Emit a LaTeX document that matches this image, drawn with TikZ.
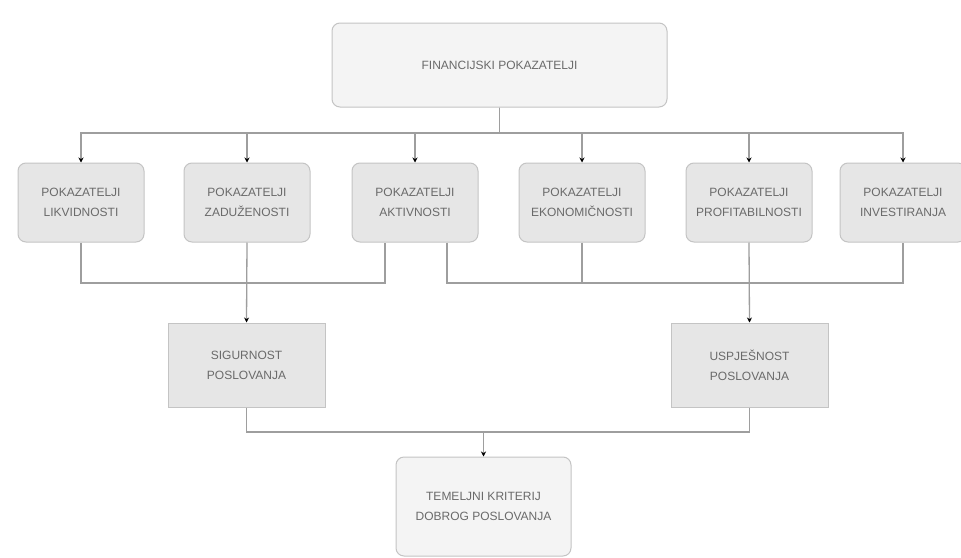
\documentclass[tikz,border=0pt]{standalone}
\usepackage{fontspec}
\setmainfont{Liberation Sans}
\usetikzlibrary{arrows.meta,calc}

\definecolor{boxgray}{HTML}{E6E6E6}
\definecolor{lightbox}{HTML}{F4F4F4}
\definecolor{edgegray}{HTML}{C4C4C4}
\definecolor{linegray}{HTML}{9E9E9E}
\definecolor{textgray}{HTML}{6A6A6A}

\tikzset{
  pokbox/.style={draw=edgegray, line width=1pt, fill=boxgray, rounded corners=8pt,
    minimum width=126pt, minimum height=79pt, align=center, text=textgray,
    font=\fontsize{12}{20}\selectfont},
  ishod/.style={pokbox, rounded corners=0pt, minimum width=157pt, minimum height=84pt},
  glavni/.style={pokbox, fill=lightbox},
  veza/.style={draw=linegray, line width=1.3pt},
  strel/.style={veza, -{Stealth[length=5pt,width=5pt,black]}}
}

\begin{document}
\begin{tikzpicture}[x=1pt,y=-1pt]
\useasboundingbox[fill=white] (0,0) rectangle (961,557);

\node[glavni, minimum width=335pt, minimum height=84pt] (fin) at (499.5,65) {FINANCIJSKI POKAZATELJI};

\node[pokbox] (lik) at (81,202.5) {POKAZATELJI\\LIKVIDNOSTI};
\node[pokbox] (zad) at (247,202.5) {POKAZATELJI\\ZADUŽENOSTI};
\node[pokbox] (akt) at (415,202.5) {POKAZATELJI\\AKTIVNOSTI};
\node[pokbox] (eko) at (582,202.5) {POKAZATELJI\\EKONOMIČNOSTI};
\node[pokbox] (pro) at (749,202.5) {POKAZATELJI\\PROFITABILNOSTI};
\node[pokbox] (inv) at (903,202.5) {POKAZATELJI\\INVESTIRANJA};

\node[ishod] (sig) at (246.5,365) {SIGURNOST\\POSLOVANJA};
\node[ishod] (usp) at (749.5,365) {USPJEŠNOST\\POSLOVANJA};

\node[glavni, minimum width=175pt, minimum height=99pt] (tem) at (483.5,506.5) {TEMELJNI KRITERIJ\\DOBROG POSLOVANJA};

\coordinate (bus1) at (0,133);
\coordinate (bus2) at (0,283);
\coordinate (bus3) at (0,432);

% gornja razina
\foreach \n in {lik,zad,akt,eko,pro,inv}
  \draw[strel] (fin.south) -- (fin.south |- bus1) -| (\n.north);

% srednja razina
\draw[veza] (lik.south) -- (lik.south |- bus2) -| ([xshift=-30pt]akt.south);
\draw[veza] ([xshift=32pt]akt.south) |- (inv.south |- bus2) -- (inv.south);
\draw[veza] (eko.south) -- (eko.south |- bus2);
\draw[strel] (zad.south) -- (sig.north);
\draw[strel] (pro.south) -- (usp.north);

% donja razina
\draw[veza] (sig.south) |- (usp.south |- bus3) -- (usp.south);
\draw[strel] (tem.north |- bus3) -- (tem.north);

\end{tikzpicture}
\end{document}
